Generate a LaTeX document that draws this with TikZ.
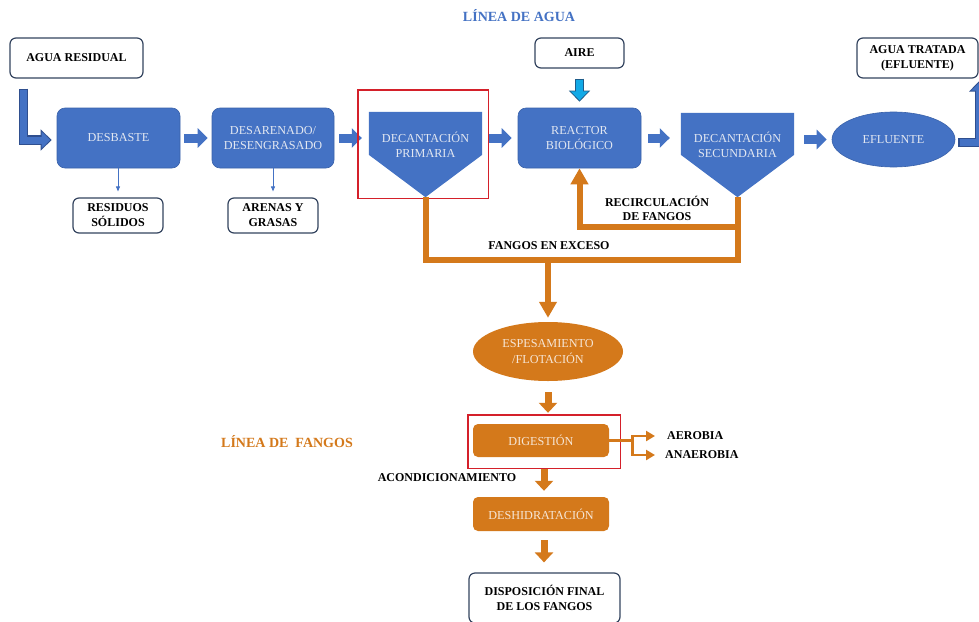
\documentclass[tikz,border=0pt]{standalone}
\usepackage{fontspec}
\setmainfont{Liberation Serif}
\usetikzlibrary{arrows.meta,shapes.geometric,calc}

\definecolor{wblue}{HTML}{4472C4}
\definecolor{wbluedark}{HTML}{3A62AA}
\definecolor{arrowdark}{HTML}{2F4F8F}
\definecolor{sorange}{HTML}{D4791B}
\definecolor{edgecol}{HTML}{34445F}
\definecolor{aircol}{HTML}{12A9E6}
\definecolor{airdark}{HTML}{1F5C8A}
\definecolor{framered}{HTML}{D4202A}
\definecolor{bluetxt}{HTML}{E2E7F1}
\definecolor{orangetxt}{HTML}{F6E6D6}

\tikzset{
  basefont/.style={font=\fontsize{12.2}{15.5}\selectfont},
  bluebox/.style={basefont, fill=wblue, draw=wbluedark, line width=0.6pt,
    rounded corners=8pt, text=bluetxt, align=center, inner sep=0pt,
    minimum width=123pt, minimum height=60pt},
  bluetext/.style={basefont, text=bluetxt, align=center, inner sep=0pt},
  orangebox/.style={basefont, fill=sorange, rounded corners=5pt,
    text=orangetxt, align=center, inner sep=0pt,
    minimum width=136pt, minimum height=33pt},
  outbox/.style={font=\bfseries\fontsize{12}{15}\selectfont, draw=edgecol,
    fill=white, line width=1.2pt, rounded corners=6pt, align=center,
    inner sep=0pt},
  lbl/.style={font=\bfseries\fontsize{12}{14}\selectfont, align=center,
    inner sep=0pt},
  heading/.style={font=\bfseries\fontsize{14}{16}\selectfont, inner sep=0pt},
  pentframe/.style={minimum width=113pt, minimum height=85pt, inner sep=0pt},
  barrow/.style={wblue, line width=9pt, -{Triangle[width=19pt,length=10pt]}},
  % outlined block arrows: a dark pass underneath a lighter pass
  bentedge/.style={arrowdark, line width=9.6pt, -{Triangle[width=20.5pt,length=11pt]}},
  bentfill/.style={wblue, line width=7pt, -{Triangle[width=16pt,length=8.5pt]},
    shorten >=1.5pt, shorten <=1.3pt},
  airback/.style={airdark, line width=8.4pt, -{Triangle[width=20.5pt,length=11pt]}},
  airfront/.style={aircol, line width=6.2pt, -{Triangle[width=17pt,length=9pt]}},
  thinarrow/.style={wblue, line width=0.8pt, -{Triangle[width=4pt,length=5pt]}},
  oline/.style={sorange, line width=6pt},
  oarrow/.style={sorange, line width=6pt, -{Triangle[width=17pt,length=16pt]}},
  obarrow/.style={sorange, line width=7pt, -{Triangle[width=18pt,length=10pt]}},
  osmall/.style={sorange, line width=2.6pt, -{Triangle[width=10pt,length=9pt]}},
  redframe/.style={draw=framered, line width=1.4pt},
}

\begin{document}
\begin{tikzpicture}[x=1pt,y=-1pt]
\path[use as bounding box] (0,0) rectangle (979,621);
\clip (0,0) rectangle (979,621);
\fill[white] (0,0) rectangle (979,621);

% ---- headings
\node[heading, text=wblue] (titleagua) at (519,16) {LÍNEA DE AGUA};
\node[heading, text=sorange] (titlefangos) at (287,442) {LÍNEA DE\ \ FANGOS};

% ---- water line
\node[outbox, minimum width=133pt, minimum height=40pt] (ar) at (76.5,58) {AGUA RESIDUAL};
\node[bluebox] (desbaste) at (118.5,138) {DESBASTE};
\node[bluebox, minimum width=122pt] (desarenado) at (273,138) {DESARENADO/\\DESENGRASADO};

% primary settler (pentagon)
\node[pentframe] (dp) at (425.5,154.5) {};
\fill[wblue] (dp.north west) -- (dp.north east) -- ($(dp.north east)+(0,43)$)
  -- (dp.south) -- ($(dp.north west)+(0,43)$) -- cycle;
\node[bluetext] (dpt) at (425.5,145) {DECANTACIÓN\\PRIMARIA};

\node[outbox, minimum width=89pt, minimum height=30pt] (aire) at (579.5,53) {AIRE};
\node[bluebox] (reactor) at (579.5,138) {REACTOR\\BIOLÓGICO};

% secondary settler (pentagon)
\node[pentframe, minimum height=84pt] (ds) at (737.5,155) {};
\fill[wblue] (ds.north west) -- (ds.north east) -- ($(ds.north east)+(0,42)$)
  -- (ds.south) -- ($(ds.north west)+(0,42)$) -- cycle;
\node[bluetext] (dst) at (737.5,145) {DECANTACIÓN\\SECUNDARIA};

\node[ellipse, fill=wblue, draw=wbluedark, line width=0.6pt, minimum width=123pt,
  minimum height=55pt, inner sep=0pt, basefont, text=bluetxt] (efl) at (893.5,139.5) {EFLUENTE};
\node[outbox, minimum width=121pt, minimum height=40pt] (at) at (917.5,58) {AGUA TRATADA\\(EFLUENTE)};

\node[outbox, minimum width=90pt, minimum height=35pt] (res) at (118,215.5) {RESIDUOS\\SÓLIDOS};
\node[outbox, minimum width=90pt, minimum height=35pt] (are) at (273,215.5) {ARENAS Y\\GRASAS};

% water line connectors
\coordinate (inA) at ($(ar.south west)+(14,10)$);
\coordinate (inB) at ($(desbaste.west)+(-5,2)$);
\draw[bentedge] (inA) |- (inB);
\draw[bentfill] (inA) |- (inB);
\coordinate (outA) at ($(efl.east)+(3,3)$);
\coordinate (outB) at ($(at.south east)+(1,2)$);
\draw[bentedge] (outA) -| (outB);
\draw[bentfill] (outA) -| (outB);

\draw[barrow, shorten <=4pt, shorten >=4pt] (desbaste) -- (desarenado);
\draw[barrow, shorten <=5pt, shorten >=7pt] (desarenado.east) -- (desarenado.east -| dp.west);
\draw[barrow, shorten <=7pt, shorten >=6pt] (dp.east |- reactor.west) -- (reactor.west);
\draw[barrow, shorten <=7pt, shorten >=11pt] (reactor.east) -- (reactor.east -| ds.west);
\draw[barrow, shorten <=10pt, shorten >=5pt] (ds.east |- efl.west) -- (efl.west);
\draw[airback, shorten <=10pt, shorten >=6pt] (aire.south) -- (reactor.north);
\draw[airfront, shorten <=11.1pt, shorten >=7.4pt] (aire.south) -- (reactor.north);
\draw[thinarrow, shorten >=6pt] (desbaste.south -| res.north) -- (res.north);
\draw[thinarrow, shorten >=6pt] (desarenado.south -| are.north) -- (are.north);

\draw[redframe] ($(dp.north west)+(-11,-22)$) rectangle ($(dp.south east)+(6,1)$);

% ---- sludge collection
\coordinate (xs) at ($(dp.south)+(0,63)$);
\draw[oline] (dp.south) -- (xs) -| (ds.south);
\draw[oarrow] ($(ds.south)+(0,30)$) -| (reactor.south);
\node[lbl] (recirc) at (657,208) {RECIRCULACIÓN\\DE FANGOS};
\node[lbl] (exceso) at (549,246) {FANGOS EN EXCESO};

% ---- sludge line
\node[ellipse, fill=sorange, minimum width=150pt, minimum height=59pt, inner sep=0pt,
  basefont, text=orangetxt, align=center] (esp) at (548,351.5) {ESPESAMIENTO\\/FLOTACIÓN};
\draw[oarrow, shorten >=4pt] (esp.north |- xs) -- (esp.north);

\node[orangebox] (dig) at (541,440.5) {DIGESTIÓN};
\node[orangebox, minimum height=34pt] (desh) at (541,514) {DESHIDRATACIÓN};
\node[outbox, minimum width=151pt, minimum height=50pt] (disp) at (544.5,598) {DISPOSICIÓN FINAL\\DE LOS FANGOS};

\draw[obarrow, shorten <=11pt, shorten >=11pt] (esp.south) -- (esp.south |- dig.north);
\draw[obarrow, shorten <=11pt, shorten >=6pt] ($(dig.south)+(3,0)$) -- ($(desh.north)+(3,0)$);
\draw[obarrow, shorten <=9pt, shorten >=10pt] ($(desh.south)+(3,0)$) -- ($(desh.south |- disp.north)+(3,0)$);

\draw[redframe] ($(dig.north west)+(-5,-9)$) rectangle ($(dig.south east)+(11,11)$);

% digestion branches
\node[lbl, anchor=west] (aer) at (667,436) {AEROBIA};
\node[lbl, anchor=west] (anaer) at (665,455) {ANAEROBIA};
\draw[sorange, line width=2.6pt] (dig.east) -- ++(23,0) coordinate (br);
\draw[osmall, shorten >=12pt] (br) |- (aer.west);
\draw[osmall, shorten >=10pt] (br) |- (anaer.west);

\node[lbl] (acond) at (447,478) {ACONDICIONAMIENTO};
\end{tikzpicture}
\end{document}
